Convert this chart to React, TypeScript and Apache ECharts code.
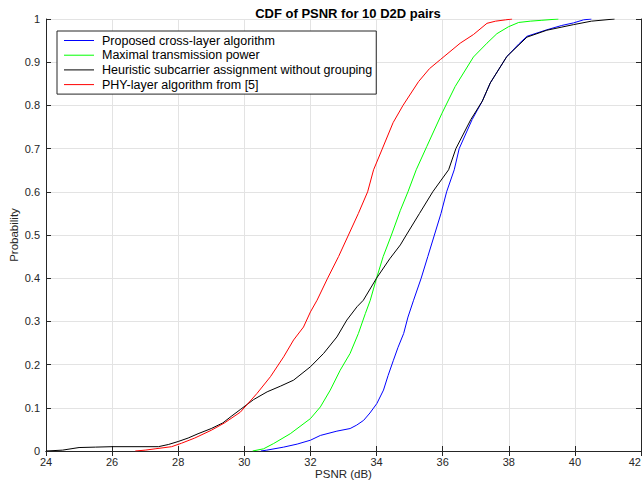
import React, { useEffect, useRef } from "react";
import * as echarts from "echarts";

const seriesNames = [
  "Proposed cross-layer algorithm",
  "Maximal transmission power",
  "Heuristic subcarrier assignment without grouping",
  "PHY-layer algorithm from [5]",
];
const seriesColors = ["#0000ff", "#00ff00", "#000000", "#ff0000"];

const xTicks = [24, 26, 28, 30, 32, 34, 36, 38, 40, 42];
const yTicks = [0, 0.1, 0.2, 0.3, 0.4, 0.5, 0.6, 0.7, 0.8, 0.9, 1];

const proposed: [number, number][] = [
  [30.5, 0], [30.68, 0.002], [31.19, 0.009], [31.6, 0.016], [32.0, 0.025], [32.3, 0.036],
  [32.8, 0.046], [33.2, 0.052], [33.4, 0.06], [33.61, 0.071], [33.8, 0.088], [34.01, 0.11],
  [34.21, 0.141], [34.35, 0.175], [34.51, 0.21], [34.65, 0.24], [34.82, 0.272], [34.95, 0.31],
  [35.12, 0.349], [35.35, 0.4], [35.55, 0.45], [35.75, 0.5], [35.95, 0.55], [36.12, 0.6],
  [36.35, 0.651], [36.5, 0.7], [36.89, 0.767], [37.2, 0.81], [37.44, 0.852], [37.94, 0.913],
  [38.3, 0.942], [38.55, 0.96], [39.15, 0.975], [39.6, 0.985], [39.96, 0.991], [40.26, 0.998],
  [40.5, 1],
];

const maxPower: [number, number][] = [
  [30.25, 0], [30.58, 0.005], [30.88, 0.017], [31.39, 0.04], [32.0, 0.075], [32.3, 0.102],
  [32.6, 0.141], [32.9, 0.187], [33.2, 0.226], [33.45, 0.272], [33.66, 0.318], [33.81, 0.349],
  [34.0, 0.4], [34.2, 0.45], [34.45, 0.5], [34.72, 0.557], [34.95, 0.6], [35.2, 0.651],
  [35.52, 0.705], [35.98, 0.782], [36.38, 0.844], [36.93, 0.912], [37.34, 0.944], [37.64, 0.966],
  [37.99, 0.982], [38.3, 0.992], [38.65, 0.995], [39.0, 0.997], [39.5, 1],
];

const heuristic: [number, number][] = [
  [24, 0], [24.5, 0.002], [25, 0.008], [25.5, 0.009], [26, 0.01], [27.4, 0.01], [27.7, 0.015],
  [28, 0.022], [28.3, 0.03], [28.6, 0.04], [29, 0.052], [29.35, 0.065], [29.6, 0.08],
  [29.88, 0.096], [30.28, 0.119], [30.69, 0.137], [31.09, 0.15], [31.49, 0.164], [32.0, 0.195],
  [32.4, 0.226], [32.8, 0.264], [33.1, 0.303], [33.41, 0.334], [33.6, 0.349], [34.0, 0.4],
  [34.4, 0.445], [34.72, 0.477], [34.9, 0.5], [35.3, 0.55], [35.7, 0.6], [36.18, 0.651],
  [36.4, 0.7], [36.85, 0.767], [37.2, 0.81], [37.44, 0.852], [37.94, 0.913], [38.55, 0.958],
  [39.15, 0.974], [39.96, 0.987], [40.5, 0.995], [41.2, 1],
];

const phyLayer: [number, number][] = [
  [26.7, 0], [27.0, 0.002], [27.3, 0.005], [27.8, 0.01], [28.1, 0.018], [28.5, 0.03],
  [29.0, 0.048], [29.4, 0.065], [29.88, 0.09], [30.38, 0.133], [30.79, 0.172], [31.19, 0.218],
  [31.49, 0.257], [31.79, 0.287], [32.0, 0.322], [32.2, 0.349], [32.52, 0.4], [32.85, 0.45],
  [33.15, 0.5], [33.45, 0.55], [33.73, 0.6], [33.91, 0.651], [34.16, 0.697], [34.5, 0.76],
  [34.8, 0.8], [35.27, 0.855], [35.6, 0.885], [35.93, 0.906], [36.53, 0.944], [36.93, 0.964],
  [37.34, 0.99], [37.6, 0.995], [37.9, 0.998], [38.1, 1],
];

const seriesData = [proposed, maxPower, heuristic, phyLayer];

const FONT = "'Liberation Sans', Arial, Helvetica, sans-serif";
const AXIS_COLOR = "#262626";
const GRID_COLOR = "#e3e3e3";

export default function App() {
  const ref = useRef<HTMLDivElement>(null);

  useEffect(() => {
    if (!ref.current) return;
    const chart = echarts.init(ref.current, undefined, { renderer: "svg" });
    const commonX = {
      type: "value" as const,
      min: xTicks[0],
      max: xTicks[xTicks.length - 1],
      interval: 2,
    };
    const commonY = {
      type: "value" as const,
      min: yTicks[0],
      max: yTicks[yTicks.length - 1],
      interval: 0.1,
    };
    chart.setOption({
      animation: false,
      backgroundColor: "#ffffff",
      textStyle: { fontFamily: FONT },
      title: {
        text: "CDF of PSNR for 10 D2D pairs",
        left: 343,
        textAlign: "center",
        top: 2,
        textStyle: { fontSize: 13, fontWeight: "bold", color: "#000", fontFamily: FONT },
      },
      grid: {
        left: 46,
        right: 3,
        top: 19,
        bottom: 34,
        containLabel: false,
        outerBoundsMode: "none",
      },
      legend: {
        left: 57,
        top: 31,
        orient: "vertical",
        data: seriesNames,
        icon: "rect",
        itemWidth: 30,
        itemHeight: 1,
        itemGap: 1.7,
        padding: [3, 4, 3, 7],
        borderColor: AXIS_COLOR,
        borderWidth: 1,
        backgroundColor: "#ffffff",
        selectedMode: false,
        textStyle: {
          fontSize: 12.5,
          lineHeight: 12,
          color: "#000",
          fontFamily: FONT,
          padding: [0, 0, 0, 3],
        },
      },
      xAxis: [
        {
          ...commonX,
          position: "bottom",
          name: "PSNR (dB)",
          nameLocation: "middle",
          nameGap: 17,
          nameMoveOverlap: false,
          nameTextStyle: { fontSize: 11.5, color: AXIS_COLOR, fontFamily: FONT },
          axisLine: { show: true, lineStyle: { color: AXIS_COLOR, width: 1 } },
          axisTick: { show: true, inside: true, length: 5, lineStyle: { color: AXIS_COLOR } },
          axisLabel: {
            fontSize: 11,
            color: AXIS_COLOR,
            margin: 5,
            fontFamily: FONT,
            alignMaxLabel: "right",
          },
          splitLine: { show: true, lineStyle: { color: GRID_COLOR, width: 1 } },
        },
        {
          ...commonX,
          position: "top",
          axisLine: { show: true, lineStyle: { color: AXIS_COLOR, width: 1 } },
          axisTick: { show: true, inside: true, length: 5, lineStyle: { color: AXIS_COLOR } },
          axisLabel: { show: false },
          splitLine: { show: false },
        },
      ],
      yAxis: [
        {
          ...commonY,
          position: "left",
          name: "Probability",
          nameLocation: "middle",
          nameGap: 26,
          nameMoveOverlap: false,
          nameTextStyle: { fontSize: 11.5, color: AXIS_COLOR, fontFamily: FONT },
          axisLine: { show: true, lineStyle: { color: AXIS_COLOR, width: 1 } },
          axisTick: { show: true, inside: true, length: 5, lineStyle: { color: AXIS_COLOR } },
          axisLabel: {
            fontSize: 11,
            color: AXIS_COLOR,
            margin: 6,
            fontFamily: FONT,
            formatter: (v: number) => String(Math.round(v * 10) / 10),
          },
          splitLine: { show: true, lineStyle: { color: GRID_COLOR, width: 1 } },
        },
        {
          ...commonY,
          position: "right",
          axisLine: { show: true, lineStyle: { color: AXIS_COLOR, width: 1 } },
          axisTick: { show: true, inside: true, length: 5, lineStyle: { color: AXIS_COLOR } },
          axisLabel: { show: false },
          splitLine: { show: false },
        },
      ],
      series: seriesNames.map((name, i) => ({
        name,
        type: "line",
        xAxisIndex: 0,
        yAxisIndex: 0,
        data: seriesData[i],
        showSymbol: false,
        symbol: "none",
        color: seriesColors[i],
        itemStyle: { color: seriesColors[i] },
        lineStyle: { color: seriesColors[i], width: 1 },
        z: 2 + i,
      })),
    });
    return () => chart.dispose();
  }, []);

  return (
    <div
      ref={ref}
      style={{ position: "fixed", left: 0, top: 0, width: 644, height: 485, background: "#fff" }}
    />
  );
}
